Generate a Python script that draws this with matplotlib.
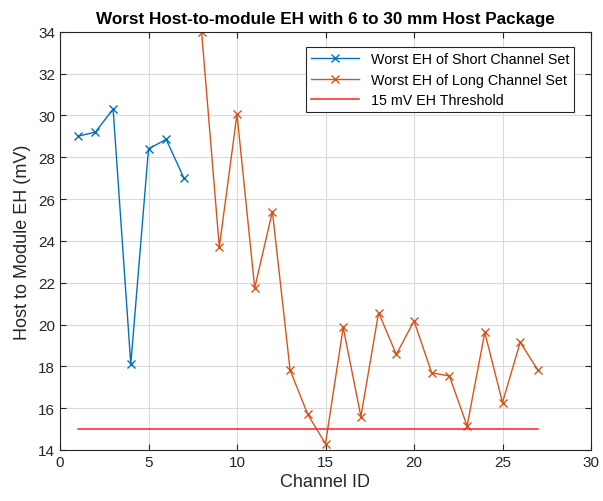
import numpy as np
import matplotlib.pyplot as plt

plt.rcParams['font.family'] = ['Liberation Sans', 'DejaVu Sans']

short_ch = [1, 2, 3, 4, 5, 6, 7]
short_eh = [29.0, 29.2, 30.3, 18.1, 28.4, 28.85, 27.0]

long_ch = list(range(8, 28))
long_eh = [34.0, 23.7, 30.05, 21.75, 25.4, 17.82, 15.7, 14.3, 19.86, 15.6,
           20.57, 18.57, 20.17, 17.69, 17.54, 15.15, 19.62, 16.27, 19.15, 17.82]

thr_ch = [1, 27]
thr_eh = [15, 15]

fig = plt.figure(figsize=(6.03, 5.02), dpi=100)
ax = fig.add_axes([60/603, 51/502, 531/603, 418.3/502])

ax.plot(short_ch, short_eh, color='#0072BD', marker='x', markersize=6, lw=1,
        label='Worst EH of Short Channel Set')
ax.plot(long_ch, long_eh, color='#D95319', marker='x', markersize=6, lw=1,
        label='Worst EH of Long Channel Set')
ax.plot(thr_ch, thr_eh, color='#FF2020', lw=1.1, label='15 mV EH Threshold')

ax.set_xlim(0, 30)
ax.set_ylim(14, 34)
ax.set_xticks(np.arange(0, 31, 5))
ax.set_yticks(np.arange(14, 35, 2))
ax.grid(True, color='#DADADA', lw=0.8)
ax.set_axisbelow(True)
ax.tick_params(direction='in', top=True, right=True, labelsize=11,
               colors='#262626', length=4)
for s in ax.spines.values():
    s.set_color('#262626')
    s.set_linewidth(0.8)

ax.set_xlabel('Channel ID', fontsize=13, color='#262626', labelpad=3)
ax.set_ylabel('Host to Module EH (mV)', fontsize=13, color='#262626', labelpad=5)
ax.set_title('Worst Host-to-module EH with 6 to 30 mm Host Package',
             fontsize=12.3, fontweight='bold', pad=6)

leg = ax.legend(loc='upper right', bbox_to_anchor=(0.982, 0.98), fontsize=10.3,
                fancybox=False, framealpha=1, edgecolor='#262626',
                handlelength=3.4, borderpad=0.35, labelspacing=0.45)
leg.get_frame().set_linewidth(0.8)

fig.savefig('out.png', dpi=100)
